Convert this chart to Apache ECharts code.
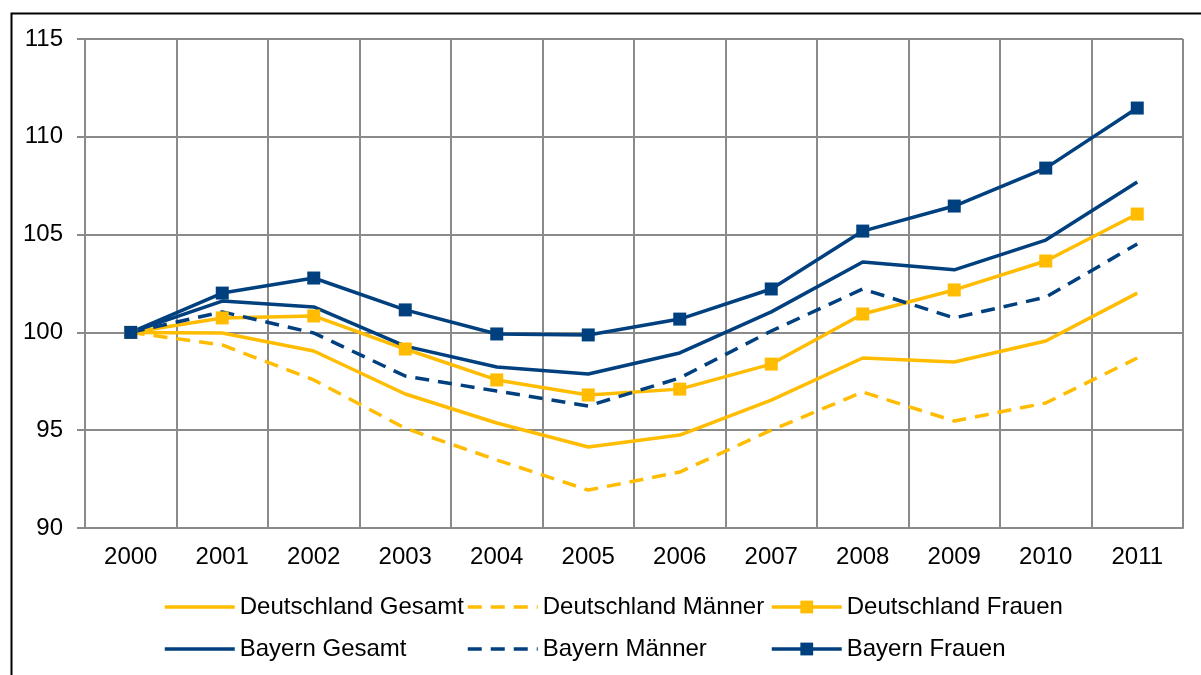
<!DOCTYPE html>
<html>
<head>
<meta charset="utf-8">
<script src="https://cdn.jsdelivr.net/npm/echarts@6/dist/echarts.min.js"></script>
<style>
  html, body { margin: 0; padding: 0; background: #fff; }
  #chart { width: 1201px; height: 675px; }
</style>
</head>
<body>
<div id="chart"></div>
<script>
// Jahre und Indexwerte (2000 = 100)
var years = ['2000', '2001', '2002', '2003', '2004', '2005', '2006', '2007', '2008', '2009', '2010', '2011'];

var deGesamt = [100, 99.97, 99.05, 96.85, 95.37, 94.14, 94.75, 96.54, 98.69, 98.49, 99.56, 102.01];
var deMaenner = [100, 99.36, 97.57, 95.1, 93.48, 91.94, 92.86, 95.0, 96.95, 95.47, 96.39, 98.69];
var deFrauen = [100, 100.74, 100.84, 99.15, 97.57, 96.8, 97.1, 98.38, 100.94, 102.17, 103.65, 106.05];
var byGesamt = [100, 101.6, 101.3, 99.3, 98.23, 97.87, 98.95, 101.05, 103.6, 103.2, 104.72, 107.69];
var byMaenner = [100, 101.05, 99.97, 97.77, 97.0, 96.24, 97.67, 100.07, 102.22, 100.74, 101.8, 104.52];
var byFrauen = [100, 102.01, 102.78, 101.15, 99.92, 99.87, 100.68, 102.22, 105.18, 106.46, 108.4, 111.47];

var seriesNames = ['Deutschland Gesamt', 'Deutschland Männer', 'Deutschland Frauen',
                   'Bayern Gesamt', 'Bayern Männer', 'Bayern Frauen'];
var hasMarker = [false, false, true, false, false, true];

var yellow = '#FFBC00';
var navy = '#00407F';
var grey = '#8a8a8a';
var font = 'Liberation Sans, Arial, sans-serif';

function makeSeries(name, data, color, dashed, marker) {
    return {
        name: name,
        type: 'line',
        data: data,
        symbol: marker ? 'rect' : 'none',
        symbolSize: 13,
        showSymbol: marker,
        itemStyle: { color: color },
        lineStyle: { color: color, width: 3.5, type: dashed ? [14, 9] : 'solid' },
        emphasis: { disabled: true }
    };
}

// legend: one per item so the columns line up like the original
var legendLeft = [163, 466, 770];
var legendTop = [595, 637];
var legends = [];
for (var i = 0; i < seriesNames.length; i++) {
    legends.push({
        data: [seriesNames[i]],
        left: legendLeft[i % 3],
        top: legendTop[Math.floor(i / 3)],
        padding: 0,
        itemWidth: 70,
        itemHeight: 16,
        selectedMode: false,
        itemStyle: { opacity: hasMarker[i] ? 1 : 0 },
        lineStyle: { width: 3.5 },
        textStyle: { fontFamily: font, fontSize: 24, color: '#000' }
    });
}

var chart = echarts.init(document.getElementById('chart'), null, { renderer: 'canvas' });

chart.setOption({
    animation: false,
    backgroundColor: '#fff',
    graphic: [{
        type: 'rect',
        left: 9,
        top: 11,
        shape: { width: 1300, height: 800 },
        style: { fill: 'none', stroke: '#000', lineWidth: 2 },
        silent: true
    }],
    grid: { left: 85, right: 18, top: 39, bottom: 147 },
    legend: legends,
    xAxis: {
        type: 'category',
        data: years,
        boundaryGap: true,
        axisLine: { show: true, lineStyle: { color: grey, width: 2 } },
        axisTick: { show: false },
        splitLine: { show: true, interval: 0, lineStyle: { color: grey, width: 2 } },
        axisLabel: { fontFamily: font, fontSize: 24, color: '#000', margin: 17, interval: 0 }
    },
    yAxis: {
        type: 'value',
        min: 90,
        max: 115,
        interval: 5,
        axisLine: { show: true, lineStyle: { color: grey, width: 2 } },
        axisTick: { show: true, length: 8, lineStyle: { color: grey, width: 2 } },
        splitLine: { show: true, lineStyle: { color: grey, width: 2 } },
        axisLabel: { fontFamily: font, fontSize: 24, color: '#000', margin: 22 }
    },
    series: [
        makeSeries(seriesNames[0], deGesamt, yellow, false, false),
        makeSeries(seriesNames[1], deMaenner, yellow, true, false),
        makeSeries(seriesNames[2], deFrauen, yellow, false, true),
        makeSeries(seriesNames[3], byGesamt, navy, false, false),
        makeSeries(seriesNames[4], byMaenner, navy, true, false),
        makeSeries(seriesNames[5], byFrauen, navy, false, true)
    ]
});
</script>
</body>
</html>
